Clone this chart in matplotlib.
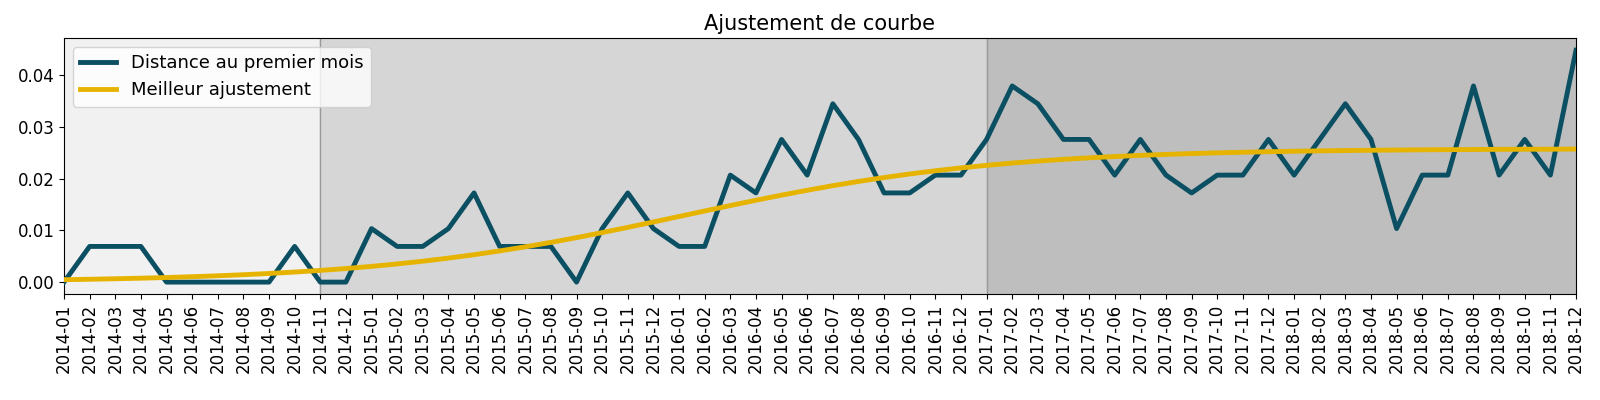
import matplotlib
matplotlib.use("Agg")
import matplotlib.pyplot as plt
import numpy as np
import pandas as pd

months = pd.date_range("2014-01", "2018-12", freq="MS").strftime("%Y-%m").tolist()
unit = 1/290
counts = [0,2,2,2,0,0,0,0,0,2,0,0,
          3,2,2,3,5,2,2,2,0,3,5,3,
          2,2,6,5,8,6,10,8,5,5,6,6,
          8,11,10,8,8,6,8,6,5,6,6,8,
          6,8,10,8,3,6,6,11,6,8,6,13]
distance = [c*unit for c in counts]
fit_L, fit_k, fit_x0 = 0.0258, 0.165, 24.2
spans = [(0, 10, "#f1f1f1"), (10, 36, "#d6d6d6"), (36, 59, "#bebebe")]

x = np.arange(len(months))
fit = fit_L/(1+np.exp(-fit_k*(x-fit_x0)))

fig, ax = plt.subplots(figsize=(16, 4), dpi=100)
for a, b, c in spans:
    ax.axvspan(a, b, color=c, zorder=0)
for a in (10, 36):
    ax.axvline(a, color="#999999", lw=1, zorder=1)
ax.plot(x, distance, color="#0b4f63", lw=3.5, label="Distance au premier mois", zorder=3)
ax.plot(x, fit, color="#e6b400", lw=3.5, label="Meilleur ajustement", zorder=4)
ax.set_xlim(0, 59)
ax.set_ylim(-0.0023, 0.0472)
ax.set_xticks(x)
ax.set_xticklabels(months, rotation=90, fontsize=12)
ax.tick_params(axis="y", labelsize=12)
ax.set_title("Ajustement de courbe", fontsize=15)
ax.legend(loc="upper left", fontsize=13)
fig.subplots_adjust(left=0.04, right=0.985, top=0.905, bottom=0.265)
fig.savefig("out.png")
